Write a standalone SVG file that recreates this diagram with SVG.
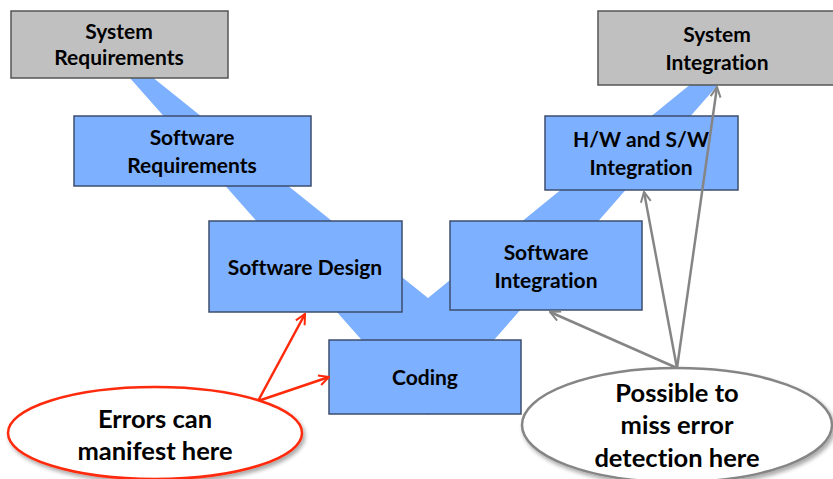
<svg xmlns="http://www.w3.org/2000/svg" width="833" height="479" viewBox="0 0 833 479">
  <style>
    .blue { fill: #7DB0FF; stroke: #3C4E6E; stroke-width: 1.5; }
    .grey { fill: #C0C0C0; stroke: #555555; stroke-width: 1.5; }
    text { font-family: Lato, "Open Sans", "Liberation Sans", sans-serif; font-weight: bold; fill: #000; text-anchor: middle; font-variant-ligatures: none; }
    .lbl { font-size: 21px; }
    .big { font-size: 25.5px; }
    .red { stroke: #FF2A0A; stroke-width: 2.5; fill: none; }
    .gry { stroke: #858585; stroke-width: 2.5; fill: none; }
  </style>
  <defs>
    <marker id="arrRed" viewBox="0 0 12 12" refX="11" refY="6" markerWidth="12" markerHeight="12" markerUnits="userSpaceOnUse" orient="auto">
      <path d="M1,1 L11,6 L1,11" fill="none" stroke="#FF2A0A" stroke-width="2"/>
    </marker>
    <marker id="arrGrey" viewBox="0 0 12 12" refX="11" refY="6" markerWidth="12" markerHeight="12" markerUnits="userSpaceOnUse" orient="auto">
      <path d="M1,1 L11,6 L1,11" fill="none" stroke="#858585" stroke-width="2"/>
    </marker>
    <filter id="shadow" x="-10%" y="-10%" width="130%" height="140%">
      <feGaussianBlur in="SourceAlpha" stdDeviation="2"/>
      <feOffset dx="2" dy="3"/>
      <feComponentTransfer><feFuncA type="linear" slope="0.35"/></feComponentTransfer>
      <feMerge><feMergeNode/><feMergeNode in="SourceGraphic"/></feMerge>
    </filter>
  </defs>

  <rect width="833" height="479" fill="#FFFFFF"/>

  <!-- V-shaped band behind the stages -->
  <polygon id="v-band" points="114,60 131,60 428,298 708,70 731,70 428,415" fill="#7DB0FF"/>

  <g id="system-requirements">
    <rect class="grey" x="11" y="11" width="217" height="67"/>
    <text class="lbl" x="119" y="39">System</text>
    <text class="lbl" x="119" y="65">Requirements</text>
  </g>
  <g id="system-integration">
    <rect class="grey" x="598" y="11" width="240" height="74"/>
    <text class="lbl" x="717" y="42">System</text>
    <text class="lbl" x="717" y="70">Integration</text>
  </g>
  <g id="software-requirements">
    <rect class="blue" x="74" y="116" width="237" height="70"/>
    <text class="lbl" x="192" y="145">Software</text>
    <text class="lbl" x="192" y="173">Requirements</text>
  </g>
  <g id="hw-sw-integration">
    <rect class="blue" x="545" y="116" width="193" height="74"/>
    <text class="lbl" x="641" y="147">H/W and S/W</text>
    <text class="lbl" x="641" y="175">Integration</text>
  </g>
  <g id="software-design">
    <rect class="blue" x="209" y="221" width="193" height="91"/>
    <text class="lbl" x="305" y="275">Software Design</text>
  </g>
  <g id="software-integration">
    <rect class="blue" x="450" y="221" width="192" height="89"/>
    <text class="lbl" x="546" y="260">Software</text>
    <text class="lbl" x="546" y="288">Integration</text>
  </g>
  <g id="coding">
    <rect class="blue" x="329" y="340" width="192" height="74"/>
    <text class="lbl" x="425" y="385">Coding</text>
  </g>

  <g id="connectors">
    <line class="red" x1="258" y1="401" x2="305" y2="314" marker-end="url(#arrRed)"/>
    <line class="red" x1="258" y1="401" x2="329" y2="377" marker-end="url(#arrRed)"/>
    <line class="gry" x1="677" y1="368" x2="550" y2="312" marker-end="url(#arrGrey)"/>
    <line class="gry" x1="677" y1="368" x2="644" y2="192" marker-end="url(#arrGrey)"/>
    <line class="gry" x1="677" y1="368" x2="717" y2="87" marker-end="url(#arrGrey)"/>
  </g>

  <g id="errors-note">
    <ellipse cx="155" cy="433" rx="147" ry="46" fill="#FFFFFF" stroke="#FF2A0A" stroke-width="2.5" filter="url(#shadow)"/>
    <text class="big" x="155" y="428">Errors can</text>
    <text class="big" x="155" y="460">manifest here</text>
  </g>
  <g id="detection-note">
    <ellipse cx="677" cy="425" rx="155" ry="57" fill="#FFFFFF" stroke="#858585" stroke-width="2.5" filter="url(#shadow)"/>
    <text class="big" x="677" y="402">Possible to</text>
    <text class="big" x="677" y="434">miss error</text>
    <text class="big" x="677" y="467">detection here</text>
  </g>
</svg>
